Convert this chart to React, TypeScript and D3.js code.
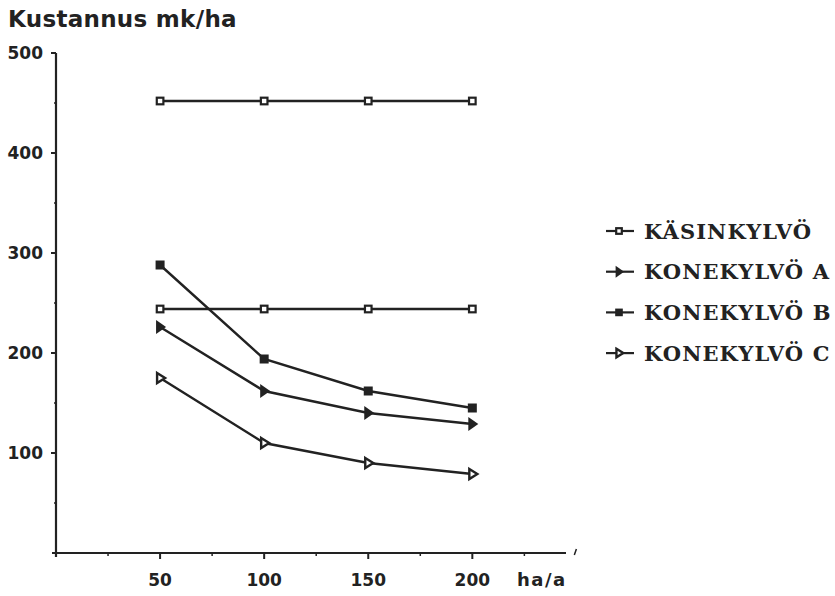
import React from "react";
import * as d3 from "d3";

const xValues = [50, 100, 150, 200];
const kasinkylvoHigh = [452, 452, 452, 452];
const kasinkylvoLow = [244, 244, 244, 244];
const konekylvoA = [226, 162, 140, 129];
const konekylvoB = [288, 194, 162, 145];
const konekylvoC = [175, 110, 90, 79];
const yTicks = [100, 200, 300, 400, 500];
const yMinorTicks = [50, 150, 250, 350, 450];
const xTicks = [50, 100, 150, 200];
const xMinorTicks = [25, 75, 125, 175, 225];
const legendLabels = ["KÄSINKYLVÖ", "KONEKYLVÖ A", "KONEKYLVÖ B", "KONEKYLVÖ C"];

type MarkerKind = "openSquare" | "filledSquare" | "filledTri" | "openTri";

const series: { values: number[]; marker: MarkerKind }[] = [
  { values: kasinkylvoHigh, marker: "openSquare" },
  { values: kasinkylvoLow, marker: "openSquare" },
  { values: konekylvoB, marker: "filledSquare" },
  { values: konekylvoA, marker: "filledTri" },
  { values: konekylvoC, marker: "openTri" },
];
const legendMarkers: MarkerKind[] = ["openSquare", "filledTri", "filledSquare", "openTri"];

const INK = "#222";

function Marker({ kind, x, y, s = 1 }: { kind: MarkerKind; x: number; y: number; s?: number }) {
  if (kind === "openSquare")
    return (
      <rect x={x - 3.3 * s} y={y - 3.3 * s} width={6.6 * s} height={6.6 * s} fill="#fff" stroke={INK} strokeWidth={2.2} />
    );
  if (kind === "filledSquare")
    return <rect x={x - 4.5 * s} y={y - 4.5 * s} width={9 * s} height={9 * s} fill={INK} />;
  if (kind === "filledTri")
    return <path d={`M${x - 4 * s},${y - 7 * s} L${x + 6 * s},${y} L${x - 4 * s},${y + 7 * s} Z`} fill={INK} />;
  return (
    <path
      d={`M${x - 3 * s},${y - 5 * s} L${x + 5 * s},${y} L${x - 3 * s},${y + 5 * s} Z`}
      fill="#fff"
      stroke={INK}
      strokeWidth={2.4}
      strokeLinejoin="miter"
    />
  );
}

export default function App() {
  const x = d3.scaleLinear().domain([0, 245]).range([56, 566]);
  const y = d3.scaleLinear().domain([0, 500]).range([553, 53]);
  const line = d3
    .line<number>()
    .x((_, i) => x(xValues[i]))
    .y((d) => y(d));

  const tickFont = { fontFamily: "DejaVu Sans", fontWeight: 700, fontSize: 17, fill: INK } as const;

  return (
    <svg
      width={835}
      height={596}
      style={{ position: "absolute", left: 0, top: 0, background: "#fff" }}
    >
      <rect width={835} height={596} fill="#fff" />
      <text x={8} y={27} style={{ ...tickFont, fontSize: 23, letterSpacing: 0.3 }}>
        Kustannus mk/ha
      </text>

      {/* y axis */}
      <line x1={x(0)} x2={x(0)} y1={y(0) + 4} y2={y(500)} stroke={INK} strokeWidth={2.2} />
      {yTicks.map((t) => (
        <g key={t}>
          <line x1={x(0) - 5} x2={x(0)} y1={y(t)} y2={y(t)} stroke={INK} strokeWidth={2} />
          <text x={43} y={y(t)} dy="0.36em" textAnchor="end" style={tickFont}>
            {t}
          </text>
        </g>
      ))}
      {yMinorTicks.map((t) => (
        <line key={t} x1={x(0) - 2} x2={x(0)} y1={y(t)} y2={y(t)} stroke={INK} strokeWidth={1.5} />
      ))}

      {/* x axis */}
      <line x1={x(0) - 4} x2={x(245)} y1={y(0)} y2={y(0)} stroke={INK} strokeWidth={2.2} />
      {xTicks.map((t) => (
        <g key={t}>
          <line x1={x(t)} x2={x(t)} y1={y(0)} y2={y(0) + 6} stroke={INK} strokeWidth={2} />
          <text x={x(t)} y={586} textAnchor="middle" style={tickFont}>
            {t}
          </text>
        </g>
      ))}
      {xMinorTicks.map((t) => (
        <line key={t} x1={x(t)} x2={x(t)} y1={y(0)} y2={y(0) + 3} stroke={INK} strokeWidth={1.5} />
      ))}
      <line x1={x(250)} x2={x(249)} y1={y(0) - 4} y2={y(0) + 2} stroke={INK} strokeWidth={1.5} />
      <text x={517} y={586} style={{ ...tickFont, fontSize: 18, letterSpacing: 1.5 }}>
        ha/a
      </text>

      {/* series */}
      {series.map((s, si) => (
        <g key={si}>
          <path d={line(s.values) || ""} fill="none" stroke={INK} strokeWidth={2.4} />
          {s.values.map((v, i) => (
            <Marker key={i} kind={s.marker} x={x(xValues[i])} y={y(v)} />
          ))}
        </g>
      ))}

      {/* legend */}
      {legendLabels.map((lab, i) => {
        const ly = 231 + i * 40.7;
        return (
          <g key={lab}>
            <line x1={606} x2={634} y1={ly} y2={ly} stroke={INK} strokeWidth={2.2} />
            <Marker kind={legendMarkers[i]} x={619} y={ly} s={0.85} />
            <text
              x={644}
              y={ly}
              dy="0.36em"
              style={{ fontFamily: "DejaVu Serif", fontWeight: 700, fontSize: 21, fill: INK, letterSpacing: 1.1 }}
            >
              {lab}
            </text>
          </g>
        );
      })}
    </svg>
  );
}
